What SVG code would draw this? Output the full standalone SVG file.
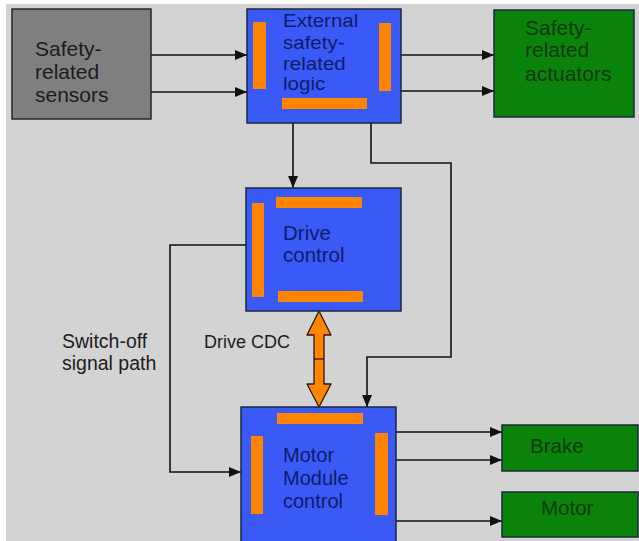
<svg xmlns="http://www.w3.org/2000/svg" width="639" height="541" viewBox="0 0 639 541">
<defs>
<style>
.bg{fill:#d3d3d3}
.box{stroke:#1a2a3a;stroke-width:1.5}
.gray{fill:#7f7f7f}
.blue{fill:#3a5af8}
.green{fill:#0b830b}
.bar{fill:#ff8400}
.t{font-family:"Liberation Sans",Arial,sans-serif}
.tk{fill:#1c1c1c}
.tb{fill:#0d1c6a}
.tg{fill:#0a3a0a}
.ln{fill:none;stroke:#111;stroke-width:1.6}
</style>
<marker id="ah" markerUnits="userSpaceOnUse" markerWidth="12" markerHeight="12" viewBox="0 0 12 12" refX="12" refY="6" orient="auto">
<path d="M0,1 L12,6 L0,11 Z" fill="#111"/>
</marker>
</defs>
<rect x="0" y="0" width="639" height="541" fill="#ffffff"/>
<rect class="bg" x="6" y="4" width="633" height="537"/>

<g id="connectors">
<line class="ln" x1="151" y1="55" x2="247" y2="55" marker-end="url(#ah)"/>
<line class="ln" x1="151" y1="92" x2="247" y2="92" marker-end="url(#ah)"/>
<line class="ln" x1="401" y1="55" x2="494" y2="55" marker-end="url(#ah)"/>
<line class="ln" x1="401" y1="91" x2="494" y2="91" marker-end="url(#ah)"/>
<line class="ln" x1="293" y1="123" x2="293" y2="188" marker-end="url(#ah)"/>
<polyline class="ln" points="371,123 371,163 451,163 451,357 367,357 367,407" marker-end="url(#ah)"/>
<polyline class="ln" points="246,245 170,245 170,472 241,472" marker-end="url(#ah)"/>
<line class="ln" x1="396" y1="432" x2="502" y2="432" marker-end="url(#ah)"/>
<line class="ln" x1="396" y1="460" x2="502" y2="460" marker-end="url(#ah)"/>
<line class="ln" x1="396" y1="521" x2="502" y2="521" marker-end="url(#ah)"/>
<g id="drive-cdc-arrow">
<polygon points="319,311 331,335 324,335 324,384 331,384 319,407 307,384 314,384 314,335 307,335" fill="#ff8400" stroke="#2a1a0a" stroke-width="1.3" stroke-linejoin="round"/>
<line x1="314" y1="359" x2="324" y2="359" stroke="#2a1a0a" stroke-width="1.3"/>
</g>
</g>

<g id="sensors">
<rect class="box gray" x="12" y="9" width="139" height="110"/>
<text class="t tk" font-size="21"><tspan x="35" y="56">Safety-</tspan><tspan x="35" y="79">related</tspan><tspan x="35" y="102">sensors</tspan></text>
</g>

<g id="logic">
<rect class="box blue" x="247" y="9" width="154" height="114"/>
<rect class="bar" x="253" y="22" width="13" height="67"/>
<rect class="bar" x="379" y="23" width="12" height="68"/>
<rect class="bar" x="282" y="98" width="85" height="11"/>
<text class="t tb" font-size="18" transform="translate(283,0) scale(1.14,1)"><tspan x="0" y="27">External</tspan><tspan x="0" y="49">safety-</tspan><tspan x="0" y="70">related</tspan><tspan x="0" y="90">logic</tspan></text>
</g>

<g id="actuators">
<rect class="box green" x="494" y="10" width="140" height="107"/>
<text class="t tg" font-size="21"><tspan x="525" y="35">Safety-</tspan><tspan x="525" y="57">related</tspan><tspan x="525" y="81">actuators</tspan></text>
</g>

<g id="drive">
<rect class="box blue" x="246" y="188" width="155" height="123"/>
<rect class="bar" x="276" y="197" width="86" height="11"/>
<rect class="bar" x="252" y="203" width="12" height="94"/>
<rect class="bar" x="278" y="291" width="85" height="11"/>
<text class="t tb" font-size="20.5"><tspan x="283" y="240">Drive</tspan><tspan x="283" y="262">control</tspan></text>
</g>

<g id="motor-module">
<rect class="box blue" x="241" y="407" width="155" height="140"/>
<rect class="bar" x="277" y="413" width="86" height="11"/>
<rect class="bar" x="251" y="436" width="12" height="78"/>
<rect class="bar" x="375" y="433" width="13" height="82"/>
<text class="t tb" font-size="20"><tspan x="283" y="462">Motor</tspan><tspan x="283" y="485">Module</tspan><tspan x="283" y="508">control</tspan></text>
</g>

<g id="brake">
<rect class="box green" x="502" y="425" width="136" height="46"/>
<text class="t tg" font-size="20.5" x="530" y="453">Brake</text>
</g>

<g id="motor">
<rect class="box green" x="502" y="492" width="136" height="45"/>
<text class="t tg" font-size="20.5" x="541" y="515">Motor</text>
</g>

<g id="labels">
<text class="t tk" font-size="18" x="204" y="348">Drive CDC</text>
<text class="t tk" font-size="19.5"><tspan x="62" y="348">Switch-off</tspan><tspan x="62" y="370">signal path</tspan></text>
</g>
</svg>
